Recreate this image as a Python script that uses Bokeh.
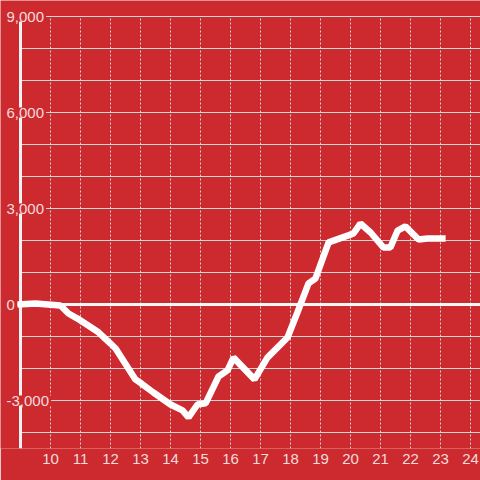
from bokeh.plotting import figure
from bokeh.models import FixedTicker, Range1d
from bokeh.core.properties import value
from bokeh.embed import file_html
from bokeh.resources import INLINE

# ---- data ----
hours = [8.9, 9.5, 10.33, 10.6, 10.9, 11.6, 12.0, 12.17, 12.83, 13.03, 13.43,
         14.0, 14.4, 14.6, 14.9, 15.17, 15.6, 15.9, 16.1, 16.8, 17.23, 17.9,
         18.23, 18.6, 18.83, 19.27, 19.93, 20.1, 20.33, 20.67, 21.1, 21.33,
         21.57, 21.83, 22.27, 22.57, 23.17]
balance = [0, 30, -30, -280, -440, -870, -1220, -1375, -2340, -2470, -2750,
           -3125, -3310, -3530, -3125, -3090, -2250, -2060, -1660, -2340, -1660, -1030,
           -250, 660, 810, 1940, 2160, 2220, 2530, 2250, 1780, 1780,
           2310, 2440, 2030, 2060, 2060]

x_ticks = [10, 11, 12, 13, 14, 15, 16, 17, 18, 19, 20, 21, 22, 23, 24]
y_ticks = [9000, 6000, 3000, 0, -3000]
y_tick_labels = ["9,000", "6,000", "3,000", "0", "-3,000"]
y_grid = [-4000, -3000, -2000, -1000, 1000, 2000, 3000, 4000, 5000, 6000, 7000, 8000, 9000]

# ---- layout / style ----
BG = "#cc2a2f"
LABEL = "#f4dcdc"
GRID = "#d6d6d6"
X0, X1 = 8.333, 24.333
Y0, Y1 = -4500, 9500
AXIS_X = 9.0
Y_TOP = 9000

p = figure(width=480, height=480, output_backend="svg", toolbar_location=None,
           x_range=Range1d(X0, X1), y_range=Range1d(Y0, Y1),
           y_axis_location=None,
           min_border_left=0, min_border_right=0, min_border_top=0, min_border_bottom=32,
           background_fill_color=BG, border_fill_color=BG, outline_line_color=None)
p.grid.visible = False

# x axis (labels only)
ax = p.xaxis[0]
ax.ticker = FixedTicker(ticks=x_ticks)
ax.axis_line_color = None
ax.major_tick_line_color = None
ax.minor_tick_line_color = None
ax.major_tick_out = 0
ax.major_tick_in = 0
ax.major_label_standoff = 5
ax.major_label_text_color = LABEL
ax.major_label_text_font = "Liberation Sans"
ax.major_label_text_font_size = "15px"

# horizontal solid grid
p.segment(x0=AXIS_X, y0=y_grid, x1=X1, y1=y_grid, line_color=GRID, line_width=1)
# vertical dashed grid
p.segment(x0=x_ticks, y0=Y0, x1=x_ticks, y1=Y_TOP, line_color=GRID, line_width=1,
          line_dash="2 2")
# y axis line
p.segment(x0=[AXIS_X], y0=[Y0], x1=[AXIS_X], y1=[Y_TOP], line_color="#f2f2f2", line_width=3)
# zero line
p.segment(x0=[hours[0]], y0=[0], x1=[X1], y1=[0], line_color="#f7f7f7", line_width=3)

# data line
p.line(hours, balance, line_color="white", line_width=6.5)

# y tick labels with background
p.text(x=[X0] * len(y_ticks), y=y_ticks, text=y_tick_labels, x_offset=5,
       text_align="left", text_baseline="middle", text_color=LABEL,
       text_font=value("Liberation Sans"), text_font_size="15px",
       background_fill_color=BG, padding=dict(left=1, right=2, top=0, bottom=0))

open("out.html", "w").write(file_html(p, INLINE))
